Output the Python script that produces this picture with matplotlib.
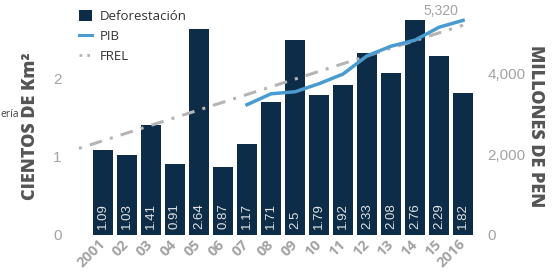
"""Deforestación, PIB y FREL, 2001-2016."""

import matplotlib

matplotlib.use("Agg")
import matplotlib.pyplot as plt
from matplotlib.lines import Line2D
from matplotlib.patches import Patch
from matplotlib.transforms import ScaledTranslation

years = list(range(2001, 2017))
tick_labels = ["2001", "02", "03", "04", "05", "06", "07", "08",
               "09", "10", "11", "12", "13", "14", "15", "2016"]
deforestation = [1.09, 1.03, 1.41, 0.91, 2.64, 0.87, 1.17, 1.71,
                 2.5, 1.79, 1.92, 2.33, 2.08, 2.76, 2.29, 1.82]
pib_years = list(range(2007, 2017))
pib = [3230, 3500, 3550, 3750, 3990, 4440, 4680, 4830, 5150, 5320]
frel_years = [2000, 2016]
frel = [1.11, 2.69]

NAVY = "#0c2c47"
BLUE = "#4a9bd0"
GREY = "#b5b5b5"
TICK = "#a3a3a3"
LABEL = "#555555"

plt.rcParams["font.family"] = ["Open Sans", "DejaVu Sans"]

fig = plt.figure(figsize=(5.52, 2.73), dpi=100)
ax = fig.add_axes([66 / 552, 38 / 273, 417 / 552, 234 / 273])
ax2 = ax.twinx()

x = [y - 2001 for y in years]
ax.bar(x, deforestation, width=0.83, color=NAVY, zorder=2)
for xi, v in zip(x, deforestation):
    ax.annotate(f"{v:g}", (xi, 0), xytext=(0, 4), textcoords="offset points",
                rotation=90, ha="center", va="bottom", color="#e2e2e2",
                fontsize=9.5, family="Liberation Sans", zorder=3)

ax.plot([y - 2001 for y in frel_years], frel, color=GREY, lw=2.2,
        linestyle=(0, (1, 2.7, 4.2, 2.7)), zorder=4)

px = [y - 2001 for y in pib_years]
ax2.plot(px, pib, color=BLUE, lw=2.5, zorder=5)
ax2.text(px[-1] - 0.2, pib[-1] + 60, f"{pib[-1]:,}", ha="right", va="bottom",
         color=TICK, fontsize=10, family="Liberation Sans")

ax.set_xlim(-1.54, 15.83)
ax.set_ylim(0, 3)
ax2.set_ylim(0, 5800)
ax.set_yticks([0, 1, 2])
ax2.set_yticks([0, 2000, 4000])
ax2.set_yticklabels(["0", "2,000", "4,000"])
ax.set_xticks(x)
ax.set_xticklabels(tick_labels, rotation=45, ha="right", va="center",
                   rotation_mode="anchor", fontweight="bold", fontsize=10.5,
                   color=TICK)
offset = ScaledTranslation(8 / 100, 0, fig.dpi_scale_trans)
for lab in ax.get_xticklabels():
    lab.set_transform(lab.get_transform() + offset)

ax.tick_params(axis="x", length=0, pad=5)
ax.tick_params(axis="y", length=0, pad=3, labelcolor=TICK, labelsize=11)
ax2.tick_params(axis="y", length=0, pad=3, labelcolor=TICK, labelsize=11)
for lab in ax.get_yticklabels() + ax2.get_yticklabels():
    lab.set_family("Liberation Sans")

for a in (ax, ax2):
    for s in a.spines.values():
        s.set_visible(False)

ax.set_ylabel("CIENTOS DE Km²", fontsize=13, fontweight="heavy",
              color=LABEL, va="center")
ax.yaxis.set_label_coords(-0.085, 0.466)
ax2.set_ylabel("MILLONES DE PEN", fontsize=13, fontweight="heavy",
               color=LABEL, rotation=-90, va="center")
ax2.yaxis.set_label_coords(1.127, 0.466)

fig.text(0, 1 - 114 / 273, "ería", ha="left", va="center",
         fontsize=7.5, color="#444444")

handles = [
    Patch(facecolor=NAVY, edgecolor="none"),
    Line2D([], [], color=BLUE, lw=2.2),
    Line2D([], [], color=GREY, lw=2, linestyle=(0, (1, 1.8))),
]
fig.legend(handles, ["Deforestación", "PIB", "FREL"], loc="upper left",
           bbox_to_anchor=(76 / 552, 1 - 7 / 273), frameon=False,
           fontsize=9.5, handlelength=1.0, handleheight=1.0,
           handletextpad=0.6, labelspacing=0.5, labelcolor="#333333",
           borderaxespad=0, borderpad=0.2)

fig.savefig("out.png", dpi=100, facecolor="white")
